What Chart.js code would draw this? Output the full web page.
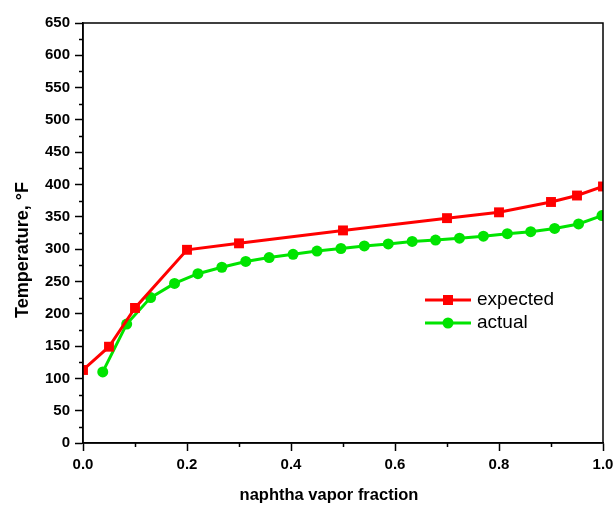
<!DOCTYPE html>
<html>
<head>
<meta charset="utf-8">
<title>Temperature vs naphtha vapor fraction</title>
<script src="https://cdn.jsdelivr.net/npm/chart.js@4/dist/chart.umd.min.js"></script>
<style>
  html, body { margin: 0; padding: 0; background: #fff; }
  #wrap { width: 615px; height: 506px; }
</style>
</head>
<body>
<div id="wrap"><canvas id="tempChart" width="615" height="506"></canvas></div>
<script>
// expected temperature (red squares)
const expectedFrac = [0.0, 0.05, 0.1, 0.2, 0.3, 0.5, 0.7, 0.8, 0.9, 0.95, 1.0];
const expectedTemp = [113, 149, 209, 299, 309, 329, 348, 357, 373, 383, 397];

// measured temperature (green circles)
const actualFrac = [0.038, 0.084, 0.130, 0.176, 0.221, 0.267, 0.313, 0.358, 0.404, 0.450, 0.496,
                    0.541, 0.587, 0.633, 0.678, 0.724, 0.770, 0.816, 0.861, 0.907, 0.953, 0.998];
const actualTemp = [110, 184, 225, 247, 262, 272, 281, 287, 292, 297, 301,
                    305, 308, 312, 314, 317, 320, 324, 327, 332, 339, 352];

const seriesNames = ["expected", "actual"];
const xTitle = "naphtha vapor fraction";
const yTitle = "Temperature, \u00B0F";

const RED = "#ff0000";
const GREEN = "#00e400";
const FONT = "'Liberation Sans', Arial, sans-serif";

function toPoints(xs, ys) {
  return xs.map((x, i) => ({ x: x, y: ys[i] }));
}

function isMajorX(v) { return Math.round(v * 10) % 2 === 0; }
function isMajorY(v) { return Math.round(v) % 50 === 0; }

// keep the plot box fixed: no extra room for the end labels
function noEdgePadding(s) {
  s.paddingLeft = 0;
  s.paddingRight = 0;
  s.paddingTop = 0;
  s.paddingBottom = 0;
}

// frame on top/right, half-length minor ticks, axis titles and the legend
const framePlugin = {
  id: "frame",
  afterDraw(chart) {
    const ctx = chart.ctx;
    const a = chart.chartArea;
    const xs = chart.scales.x;
    const ys = chart.scales.y;
    ctx.save();
    ctx.strokeStyle = "#000";
    ctx.lineWidth = 1.5;
    ctx.strokeRect(a.left, a.top, a.right - a.left, a.bottom - a.top);

    ctx.beginPath();
    xs.ticks.forEach(t => {
      if (isMajorX(t.value)) return;
      const px = Math.round(xs.getPixelForValue(t.value)) + 0.5;
      ctx.moveTo(px, a.bottom);
      ctx.lineTo(px, a.bottom + 4);
    });
    ys.ticks.forEach(t => {
      if (isMajorY(t.value)) return;
      const py = Math.round(ys.getPixelForValue(t.value)) + 0.5;
      ctx.moveTo(a.left, py);
      ctx.lineTo(a.left - 4, py);
    });
    ctx.stroke();

    // axis titles
    ctx.fillStyle = "#000";
    ctx.textAlign = "center";
    ctx.textBaseline = "middle";
    ctx.font = "bold 16.5px " + FONT;
    ctx.fillText(xTitle, 329, 495);
    ctx.save();
    ctx.translate(23, 250);
    ctx.rotate(-Math.PI / 2);
    ctx.font = "bold 18px " + FONT;
    ctx.fillText(yTitle, 0, 0);
    ctx.restore();

    // legend
    const rows = [300, 323];
    chart.data.datasets.forEach((ds, i) => {
      const y = rows[i];
      ctx.strokeStyle = ds.borderColor;
      ctx.lineWidth = ds.borderWidth;
      ctx.beginPath();
      ctx.moveTo(425, y);
      ctx.lineTo(471, y);
      ctx.stroke();
      ctx.fillStyle = ds.pointBackgroundColor;
      ctx.beginPath();
      if (ds.pointStyle === "rect") {
        ctx.rect(448 - 5, y - 5, 10, 10);
      } else {
        ctx.arc(448, y, 5.5, 0, Math.PI * 2);
      }
      ctx.fill();
      ctx.fillStyle = "#000";
      ctx.font = "19px " + FONT;
      ctx.textAlign = "left";
      ctx.fillText(ds.label, 477, y);
    });
    ctx.restore();
  }
};

new Chart(document.getElementById("tempChart"), {
  type: "scatter",
  data: {
    datasets: [
      {
        label: seriesNames[0],
        data: toPoints(expectedFrac, expectedTemp),
        showLine: true,
        borderColor: RED,
        backgroundColor: RED,
        pointBackgroundColor: RED,
        pointBorderColor: RED,
        borderWidth: 3,
        pointStyle: "rect",
        pointRadius: 7,
        pointBorderWidth: 0,
        tension: 0
      },
      {
        label: seriesNames[1],
        data: toPoints(actualFrac, actualTemp),
        showLine: true,
        borderColor: GREEN,
        backgroundColor: GREEN,
        pointBackgroundColor: GREEN,
        pointBorderColor: GREEN,
        borderWidth: 3,
        pointStyle: "circle",
        pointRadius: 5.5,
        pointBorderWidth: 0,
        tension: 0
      }
    ]
  },
  options: {
    responsive: false,
    animation: false,
    layout: { padding: { top: 23, right: 12, left: 0, bottom: 0 } },
    plugins: {
      legend: { display: false },
      tooltip: { enabled: false }
    },
    scales: {
      x: {
        type: "linear",
        min: 0,
        max: 1,
        afterFit(s) { s.height = 63; noEdgePadding(s); },
        ticks: {
          stepSize: 0.1,
          padding: 5,
          color: "#000",
          font: { family: FONT, size: 15, weight: "bold" },
          maxRotation: 0,
          autoSkip: false,
          callback: v => isMajorX(v) ? v.toFixed(1) : ""
        },
        grid: {
          drawOnChartArea: false,
          tickLength: 8,
          tickWidth: 1.5,
          tickColor: c => (c.tick && isMajorX(c.tick.value)) ? "#000" : "rgba(0,0,0,0)"
        },
        border: { display: true, color: "#000", width: 1.5 }
      },
      y: {
        type: "linear",
        min: 0,
        max: 650,
        afterFit(s) { s.width = 83; noEdgePadding(s); },
        ticks: {
          stepSize: 25,
          padding: 5,
          color: "#000",
          font: { family: FONT, size: 15, weight: "bold" },
          autoSkip: false,
          callback: v => isMajorY(v) ? String(v) : ""
        },
        grid: {
          drawOnChartArea: false,
          tickLength: 8,
          tickWidth: 1.5,
          tickColor: c => (c.tick && isMajorY(c.tick.value)) ? "#000" : "rgba(0,0,0,0)"
        },
        border: { display: true, color: "#000", width: 1.5 }
      }
    }
  },
  plugins: [framePlugin]
});
</script>
</body>
</html>
